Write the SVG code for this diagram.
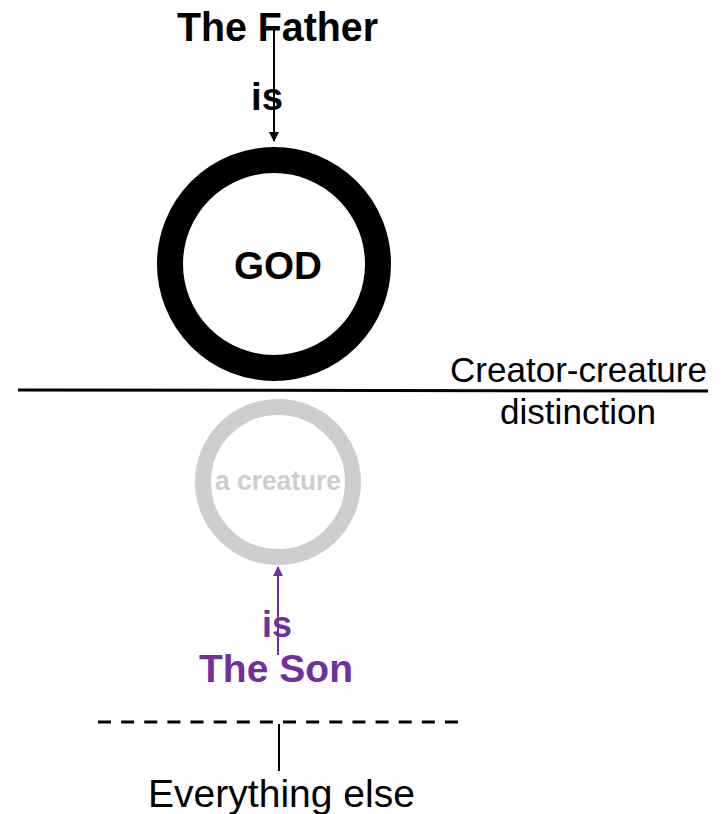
<svg xmlns="http://www.w3.org/2000/svg" width="724" height="814" viewBox="0 0 724 814">
<style>
.b{font-family:"Liberation Sans",Arial,sans-serif;font-weight:bold;text-anchor:middle}
.r{font-family:"Liberation Sans",Arial,sans-serif;text-anchor:middle}
</style>
<defs>
<marker id="ab" markerWidth="10" markerHeight="10" refX="9" refY="5" orient="auto" markerUnits="userSpaceOnUse"><path d="M0,0 L10,5 L0,10 z" fill="#000"/></marker>
<marker id="ap" markerWidth="10" markerHeight="10" refX="9" refY="5" orient="auto" markerUnits="userSpaceOnUse"><path d="M0,0 L10,5 L0,10 z" fill="#7030A0"/></marker>
</defs>
<rect width="724" height="814" fill="#fff"/>
<g id="god">
<circle cx="274" cy="264" r="104" fill="none" stroke="#000" stroke-width="26"/>
<text class="b" x="278" y="279" font-size="39" textLength="88" lengthAdjust="spacingAndGlyphs">GOD</text>
</g>
<g id="creature">
<circle cx="278" cy="482" r="75" fill="none" stroke="#CFCDCE" stroke-width="16"/>
<text class="b" x="278" y="490" font-size="27" fill="#CFCDCE" textLength="126" lengthAdjust="spacingAndGlyphs">a creature</text>
</g>
<g id="father">
<text class="b" x="277.5" y="41" font-size="40" textLength="201" lengthAdjust="spacingAndGlyphs">The Father</text>
</g>
<g id="son">
<text class="b" x="276" y="682" font-size="39" fill="#7030A0" textLength="154" lengthAdjust="spacingAndGlyphs">The Son</text>
</g>
<g id="divider">
<line x1="18" y1="390" x2="708" y2="391" stroke="#000" stroke-width="3"/>
<text class="r" x="578.5" y="382" font-size="35" textLength="257" lengthAdjust="spacingAndGlyphs">Creator-creature</text>
<text class="r" x="578" y="424" font-size="35" textLength="156" lengthAdjust="spacingAndGlyphs">distinction</text>
</g>
<g id="everything">
<text class="r" x="281.5" y="807" font-size="39" textLength="267" lengthAdjust="spacingAndGlyphs">Everything else</text>
</g>
<g id="connectors">
<line x1="274" y1="30" x2="274" y2="141" stroke="#000" stroke-width="2" marker-end="url(#ab)"/>
<text class="b" x="267" y="110" font-size="38" textLength="32" lengthAdjust="spacingAndGlyphs">is</text>
<line x1="278" y1="655" x2="278" y2="567" stroke="#7030A0" stroke-width="2" marker-end="url(#ap)"/>
<text class="b" x="277" y="637" font-size="37" fill="#7030A0" textLength="30" lengthAdjust="spacingAndGlyphs">is</text>
<line x1="98" y1="722" x2="458" y2="722" stroke="#000" stroke-width="3" stroke-dasharray="13,10.13"/>
<line x1="279" y1="724" x2="279" y2="771" stroke="#000" stroke-width="2"/>
</g>
</svg>
